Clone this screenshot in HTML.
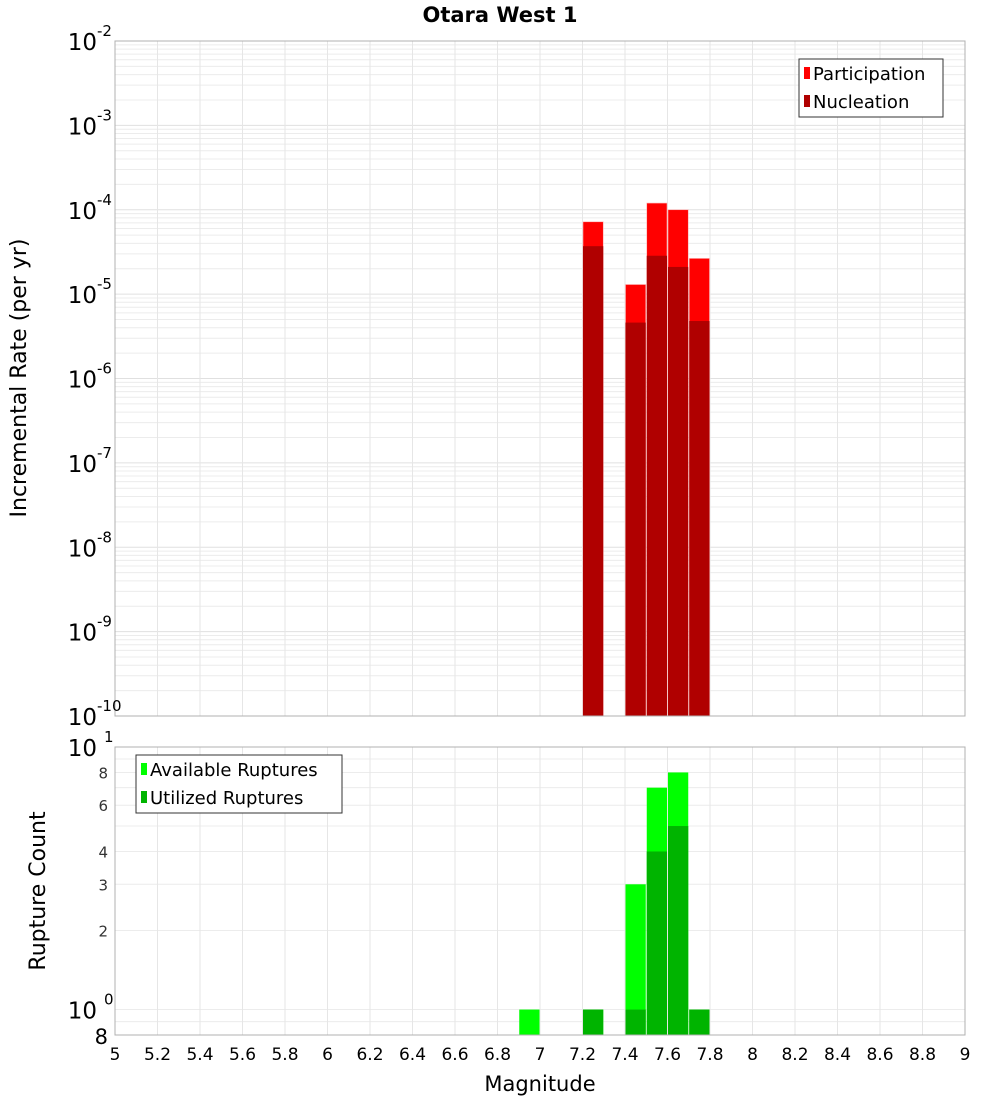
<!DOCTYPE html>
<html><head><meta charset="utf-8"><style>
body{margin:0;background:#fff;}
svg{display:block;font-family:"DejaVu Sans","Liberation Sans",sans-serif;}
</style></head><body>
<svg id="chart" width="1000" height="1100" viewBox="0 0 1000 1100"></svg>
<script>
const binCenters=[7.25,7.45,7.55,7.65,7.75];
const participationRates=[7.2e-5,1.3e-5,1.2e-4,1.0e-4,2.65e-5];
const nucleationRates=[3.7e-5,4.6e-6,2.85e-5,2.1e-5,4.8e-6];
const countBins=[6.95,7.25,7.45,7.55,7.65,7.75];
const availableCounts=[1,1,3,7,8,1];
const utilizedCounts=[0,1,1,4,5,1];
const xTicks=[5,5.2,5.4,5.6,5.8,6,6.2,6.4,6.6,6.8,7,7.2,7.4,7.6,7.8,8,8.2,8.4,8.6,8.8,9];
const xTickLabels=["5","5.2","5.4","5.6","5.8","6","6.2","6.4","6.6","6.8","7","7.2","7.4","7.6","7.8","8","8.2","8.4","8.6","8.8","9"];
const topExponents=[-10,-9,-8,-7,-6,-5,-4,-3,-2];
const bottomMinorTicks=[8,6,4,3,2];

const NS="http://www.w3.org/2000/svg";
const svg=document.getElementById('chart');
function mk(tag,attrs,parent){const e=document.createElementNS(NS,tag);for(const k in attrs)e.setAttribute(k,attrs[k]);(parent||svg).appendChild(e);return e;}
const X0=115,X1=965;
const xs=m=>X0+(m-5)/4*(X1-X0);
const T0=41,T1=716;
const yTop=v=>T1-(Math.log10(v)+10)/8*(T1-T0);
const B0=747,B1=1035;
const bLo=Math.log10(0.8),bHi=1;
const yBot=v=>B1-(Math.log10(v)-bLo)/(bHi-bLo)*(B1-B0);

// title
let t=mk('text',{x:500,y:22,'text-anchor':'middle','font-size':21,'font-weight':'bold'});


t.textContent='Otara West 1';

// top grid
const gTop=mk('g',{});


for(let e=-10;e<-2;e++){for(let k=1;k<10;k++){const y=yTop(k*Math.pow(10,e));mk('line',{x1:X0,x2:X1,y1:y,y2:y,stroke:k===1?'#e0e0e0':'#ececec','stroke-width':1},gTop);}}
xTicks.forEach(m=>{const x=xs(m);mk('line',{x1:x,x2:x,y1:T0,y2:T1,stroke:'#e6e6e6'},gTop);});
// bottom grid
const gBot=mk('g',{});


[0.8,0.9,1,2,3,4,5,6,7,8,9].forEach(v=>{const y=yBot(v);mk('line',{x1:X0,x2:X1,y1:y,y2:y,stroke:'#ececec'},gBot);});
xTicks.forEach(m=>{const x=xs(m);mk('line',{x1:x,x2:x,y1:B0,y2:B1,stroke:'#e6e6e6'},gBot);});

const bw=xs(5.1)-xs(5);
// top bars
binCenters.forEach((m,i)=>{
  const x=xs(m)-bw/2+0.5;
  let r=mk('rect',{x:x,y:yTop(participationRates[i]),width:bw-1,height:T1-yTop(participationRates[i]),fill:'#ff0000',stroke:'#ffb0b0','stroke-width':0.6});
  
  
  r=mk('rect',{x:x,y:yTop(nucleationRates[i]),width:bw-1,height:T1-yTop(nucleationRates[i]),fill:'#b00000'});
  
  
});
// bottom bars
countBins.forEach((m,i)=>{
  const x=xs(m)-bw/2+0.5;
  if(availableCounts[i]>0){let r=mk('rect',{x:x,y:yBot(availableCounts[i]),width:bw-1,height:B1-yBot(availableCounts[i]),fill:'#00ff00'});
  
  }
  if(utilizedCounts[i]>0){let r=mk('rect',{x:x,y:yBot(utilizedCounts[i]),width:bw-1,height:B1-yBot(utilizedCounts[i]),fill:'#00b400'});
  
  }
});

// frames
let f=mk('rect',{x:X0,y:T0,width:X1-X0,height:T1-T0,fill:'none',stroke:'#b0b0b0'});


f=mk('rect',{x:X0,y:B0,width:X1-X0,height:B1-B0,fill:'none',stroke:'#b0b0b0'});



// top y tick labels
topExponents.forEach(e=>{
  const y=yTop(Math.pow(10,e));
  const tx=mk('text',{x:97,y:y+9,'text-anchor':'end','font-size':23});
  
  
  tx.textContent='10';
  const sp=mk('text',{x:97,y:y-5,'font-size':15});
  
  
  sp.textContent=String(e);
});
// bottom y labels
[[10,'1'],[1,'0']].forEach(([v,ex])=>{
  const y=yBot(v);
  const tx=mk('text',{x:97,y:y+9,'text-anchor':'end','font-size':23});
  
  
  tx.textContent='10';
  const sp=mk('text',{x:104,y:y-5,'font-size':15});
  
  
  sp.textContent=ex;
});
bottomMinorTicks.forEach(v=>{
  const tx=mk('text',{x:108,y:yBot(v)+6,'text-anchor':'end','font-size':15,fill:'#333'});
  
  
  tx.textContent=String(v);
});
t=mk('text',{x:108,y:B1+9,'text-anchor':'end','font-size':21});


t.textContent='8';

// x tick labels
xTicks.forEach((m,i)=>{
  const tx=mk('text',{x:xs(m),y:1060,'text-anchor':'middle','font-size':17});
  
  
  tx.textContent=xTickLabels[i];
});
t=mk('text',{x:540,y:1091,'text-anchor':'middle','font-size':21});


t.textContent='Magnitude';
t=mk('text',{x:0,y:0,'text-anchor':'middle','font-size':22,transform:'translate(26,378) rotate(-90)'});


t.textContent='Incremental Rate (per yr)';
t=mk('text',{x:0,y:0,'text-anchor':'middle','font-size':22,transform:'translate(45,891) rotate(-90)'});


t.textContent='Rupture Count';

// legends
function legend(x,y,w,items,name){
  const g=mk('g',{});
  
  
  mk('rect',{x:x,y:y,width:w,height:58,fill:'#fff',stroke:'#333'},g);
  items.forEach((it,i)=>{
    const yy=y+14+i*28;
    const r=mk('rect',{x:x+5,y:yy-6,width:6,height:12,fill:it[1]},g);
    
    
    const tx=mk('text',{x:x+14,y:yy+7,'font-size':18},g);
    
    
    tx.textContent=it[0];
  });
}
legend(799,59,144,[['Participation','#ff0000'],['Nucleation','#b00000']],'top-legend');
legend(136,755,206,[['Available Ruptures','#00ff00'],['Utilized Ruptures','#00b400']],'bottom-legend');
</script>
</body></html>
